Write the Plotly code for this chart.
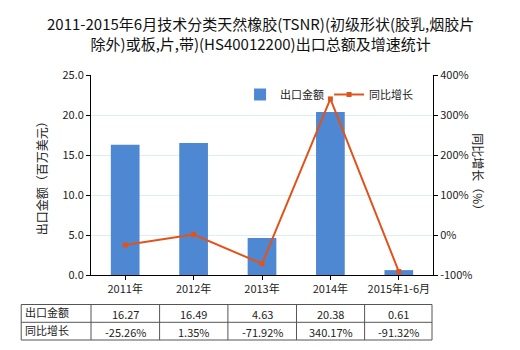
import plotly.graph_objects as go

categories = ["2011年", "2012年", "2013年", "2014年", "2015年1-6月"]
export_values = [16.27, 16.49, 4.63, 20.38, 0.61]
growth_values = [-25.26, 1.35, -71.92, 340.17, -91.32]
left_ticks = [0, 5, 10, 15, 20, 25]
right_ticks = [-100, 0, 100, 200, 300, 400]

FONT = "Noto Sans CJK SC, Microsoft YaHei, sans-serif"
W, H = 520, 350
L, R, T, B = 90.5, 86.5, 75, 75
PW, PH = W - L - R, H - T - B

def px(x):
    return (x - L) / PW

def py(y):
    return (H - B - y) / PH

fig = go.Figure()
fig.add_trace(go.Bar(
    x=categories, y=export_values, name="出口金额",
    marker=dict(color="#4f88d2", line=dict(width=0)), width=0.42,
))
fig.add_trace(go.Scatter(
    x=categories, y=growth_values, name="同比增长", yaxis="y2",
    mode="lines+markers",
    line=dict(color="#e0541c", width=2),
    marker=dict(symbol="square", size=5, color="#e0541c"),
))

fig.update_layout(
    width=W, height=H,
    margin=dict(l=L, r=R, t=T, b=B),
    paper_bgcolor="white", plot_bgcolor="white",
    font=dict(family=FONT, size=11, color="#222"),
    showlegend=True,
    legend=dict(orientation="h", x=px(240), y=py(80), xanchor="left", yanchor="top",
                bgcolor="rgba(0,0,0,0)", font=dict(size=11), itemwidth=30),
    bargap=0.5,
    xaxis=dict(showline=True, linecolor="black", linewidth=1, ticks="outside",
               ticklen=4, tickcolor="black", tickfont=dict(size=11),
               showgrid=False),
    yaxis=dict(range=[0, 25], tickvals=left_ticks, tickformat=".1f",
               showline=True, linecolor="black", linewidth=1, ticks="outside",
               ticklen=4, tickcolor="black", gridcolor="#dcefef", gridwidth=1,
               zeroline=False, tickfont=dict(size=11)),
    yaxis2=dict(range=[-100, 400], tickmode="array", tickvals=right_ticks,
                ticktext=[f"{v}%" for v in right_ticks],
                overlaying="y", side="right", showline=True, linecolor="black",
                linewidth=1, ticks="outside", ticklen=4, tickcolor="black",
                showgrid=False, zeroline=False, tickfont=dict(size=11)),
)

annotations = [
    dict(text="2011-2015年6月技术分类天然橡胶(TSNR)(初级形状(胶乳,烟胶片<br>除外)或板,片,带)(HS40012200)出口总额及增速统计",
         xref="paper", yref="paper", x=px(260), y=py(33), xanchor="center", yanchor="middle",
         showarrow=False, font=dict(size=15, color="#111")),
    dict(text="出口金额（百万美元）", xref="paper", yref="paper", x=px(30), y=py(175),
         textangle=-90, showarrow=False, font=dict(size=12)),
    dict(text="同比增长（%）", xref="paper", yref="paper", x=px(490), y=py(175),
         textangle=90, showarrow=False, font=dict(size=12)),
]

shapes = []
col_x = [20.5, 90.5, 159.3, 227.8, 296.6, 364.9, 432.5]
row_y = [304.5, 322.3, 340]
for x in col_x:
    shapes.append(dict(type="line", xref="paper", yref="paper", x0=px(x), x1=px(x),
                       y0=py(row_y[0]), y1=py(row_y[-1]), line=dict(color="#555", width=1)))
for y in row_y:
    shapes.append(dict(type="line", xref="paper", yref="paper", x0=px(col_x[0]), x1=px(col_x[-1]),
                       y0=py(y), y1=py(y), line=dict(color="#555", width=1)))

row_labels = ["出口金额", "同比增长"]
row_texts = [[f"{v:.2f}" for v in export_values], [f"{v:.2f}%" for v in growth_values]]
for r in range(2):
    yc = (row_y[r] + row_y[r + 1]) / 2
    annotations.append(dict(text=row_labels[r], xref="paper", yref="paper", x=px(22), y=py(yc - 1),
                            xanchor="left", yanchor="middle", showarrow=False, font=dict(size=11)))
    for c in range(5):
        xc = (col_x[c + 1] + col_x[c + 2]) / 2
        annotations.append(dict(text=row_texts[r][c], xref="paper", yref="paper", x=px(xc), y=py(yc + 1),
                                xanchor="center", yanchor="middle", showarrow=False, font=dict(size=11)))

fig.update_layout(annotations=annotations, shapes=shapes)
fig.write_html("out.html")
